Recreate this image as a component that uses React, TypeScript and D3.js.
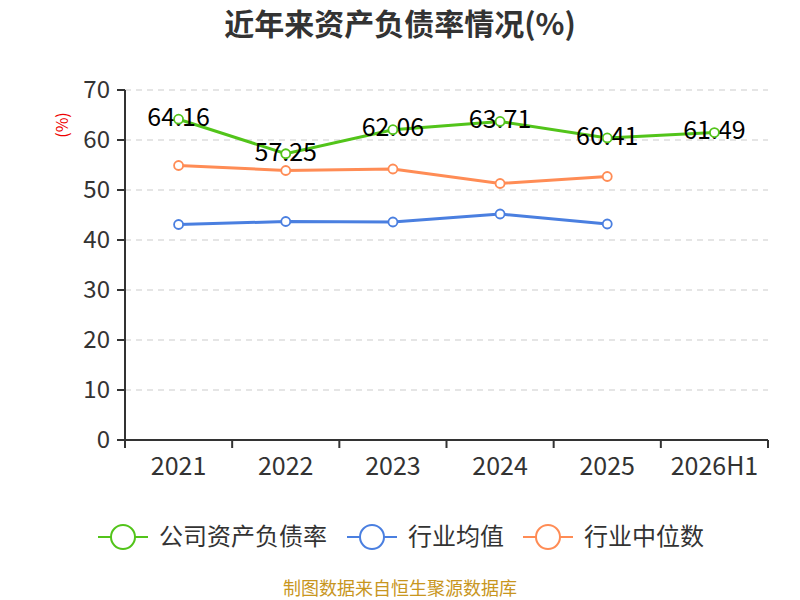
import { useEffect, useRef } from "react";
import * as d3 from "d3";

const years = ["2021", "2022", "2023", "2024", "2025", "2026H1"];
const companyRatio = [64.16, 57.25, 62.06, 63.71, 60.41, 61.49];
const industryAvg = [43.1, 43.7, 43.6, 45.2, 43.2];
const industryMedian = [54.9, 53.9, 54.2, 51.3, 52.7];
const yTicks = [0, 10, 20, 30, 40, 50, 60, 70];

const FONT = "'Noto Sans CJK SC', 'Noto Sans', sans-serif";

export default function App() {
  const ref = useRef<SVGSVGElement>(null);

  useEffect(() => {
    const svg = d3.select(ref.current);
    svg.selectAll("*").remove();

    const left = 125, right = 768, top = 90, bottom = 440;
    const x = d3.scaleBand().domain(years).range([left, right]);
    const y = d3.scaleLinear().domain([0, 70]).range([bottom, top]);
    const cx = (i: number) => (x(years[i]) as number) + x.bandwidth() / 2;

    svg.append("text")
      .attr("x", 400).attr("y", 24).attr("dy", "0.35em")
      .attr("text-anchor", "middle")
      .style("font", `bold 30px ${FONT}`)
      .attr("fill", "#333")
      .text("近年来资产负债率情况(%)");

    // grid
    svg.append("g").selectAll("line")
      .data(yTicks.filter(t => t > 0))
      .join("line")
      .attr("x1", left).attr("x2", right)
      .attr("y1", d => y(d)).attr("y2", d => y(d))
      .attr("stroke", "#ccc").attr("stroke-dasharray", "6,5").attr("stroke-width", 1.2);

    // y axis
    const ya = svg.append("g");
    ya.append("line").attr("x1", left).attr("x2", left).attr("y1", top).attr("y2", bottom)
      .attr("stroke", "#333").attr("stroke-width", 2);
    ya.selectAll("line.t").data(yTicks).join("line").attr("class", "t")
      .attr("x1", left - 8).attr("x2", left)
      .attr("y1", d => y(d)).attr("y2", d => y(d))
      .attr("stroke", "#333").attr("stroke-width", 2);
    ya.selectAll("text").data(yTicks).join("text")
      .attr("x", left - 15).attr("y", d => y(d))
      .attr("dy", "0.35em").attr("text-anchor", "end")
      .style("font", `24px ${FONT}`).attr("fill", "#333")
      .text(d => d);

    svg.append("text")
      .attr("transform", `translate(62,125) rotate(-90)`)
      .attr("text-anchor", "middle").attr("dy", "0.35em")
      .style("font", `16px ${FONT}`).attr("fill", "#e00")
      .text("(%)");

    // x axis
    const xa = svg.append("g");
    xa.append("line").attr("x1", left).attr("x2", right).attr("y1", bottom).attr("y2", bottom)
      .attr("stroke", "#333").attr("stroke-width", 2);
    const bounds = years.map(d => x(d) as number).concat([right]);
    xa.selectAll("line.t").data(bounds).join("line").attr("class", "t")
      .attr("x1", d => d).attr("x2", d => d)
      .attr("y1", bottom).attr("y2", bottom + 8)
      .attr("stroke", "#333").attr("stroke-width", 2);
    xa.selectAll("text").data(years).join("text")
      .attr("x", (_d, i) => cx(i)).attr("y", 466).attr("dy", "0.35em")
      .attr("text-anchor", "middle")
      .style("font", `25px ${FONT}`).attr("fill", "#333")
      .text(d => d);

    const series = [
      { name: "公司资产负债率", data: companyRatio, color: "#52c41a", labels: true },
      { name: "行业均值", data: industryAvg, color: "#4a7fe0", labels: false },
      { name: "行业中位数", data: industryMedian, color: "#ff8c55", labels: false },
    ];

    const line = d3.line<number>().x((_d, i) => cx(i)).y(d => y(d));

    for (const s of series) {
      const g = svg.append("g");
      g.append("path").attr("d", line(s.data) || "")
        .attr("fill", "none").attr("stroke", s.color).attr("stroke-width", 3);
      if (s.labels) {
        g.selectAll("text").data(s.data).join("text")
          .attr("x", (_d, i) => cx(i)).attr("y", d => y(d) - 2)
          .attr("dy", "0.35em").attr("text-anchor", "middle")
          .style("font", `25px ${FONT}`).attr("fill", "#000")
          .text(d => d.toFixed(2));
      }
      g.selectAll("circle").data(s.data).join("circle")
        .attr("cx", (_d, i) => cx(i)).attr("cy", d => y(d)).attr("r", 4.5)
        .attr("fill", "#fff").attr("stroke", s.color).attr("stroke-width", 1.8);
    }

    // legend
    const legendX = [98, 347, 523];
    series.forEach((s, i) => {
      const g = svg.append("g").attr("transform", `translate(${legendX[i]},537)`);
      g.append("line").attr("x1", 0).attr("x2", 50).attr("stroke", s.color).attr("stroke-width", 2);
      g.append("circle").attr("cx", 25).attr("r", 12).attr("fill", "#fff")
        .attr("stroke", s.color).attr("stroke-width", 2);
      g.append("text").attr("x", 61).attr("dy", "0.35em")
        .style("font", `24px ${FONT}`).attr("fill", "#333").text(s.name);
    });

    svg.append("text")
      .attr("x", 400).attr("y", 589).attr("dy", "0.35em")
      .attr("text-anchor", "middle")
      .style("font", `18px ${FONT}`).attr("fill", "#c8961e")
      .text("制图数据来自恒生聚源数据库");
  }, []);

  return (
    <div style={{ position: "absolute", left: 0, top: 0 }}>
      <svg ref={ref} width={800} height={600} style={{ display: "block", background: "#fff" }} />
    </div>
  );
}
